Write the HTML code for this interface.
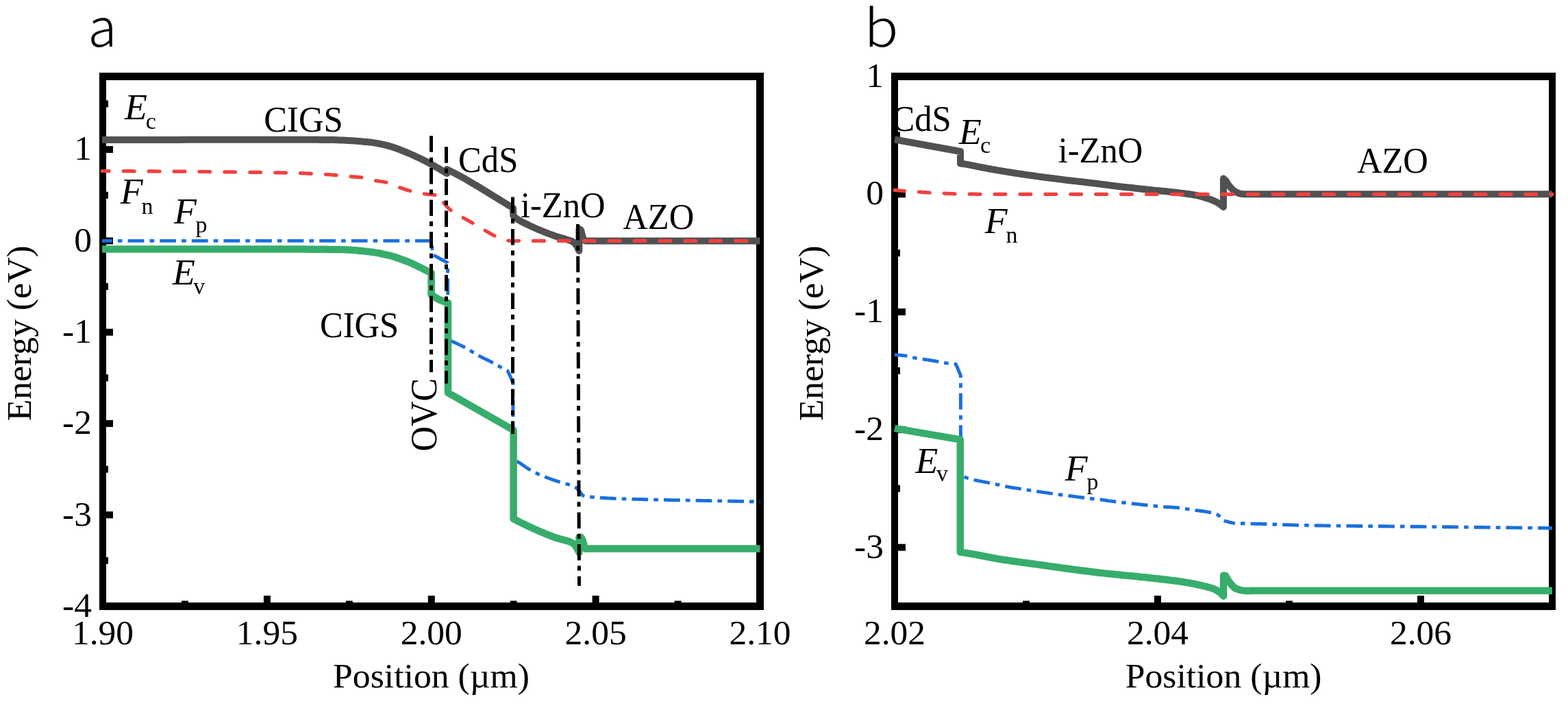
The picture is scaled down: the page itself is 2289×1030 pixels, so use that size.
<!DOCTYPE html>
<html><head><meta charset="utf-8"><title>Band diagram</title>
<style>html,body{margin:0;padding:0;background:#fff;overflow:hidden;}svg{display:block;}</style>
</head><body>
<svg width="2289" height="1030" viewBox="0 0 2289 1030">
<rect width="2289" height="1030" fill="#fff"/>
<rect x="145" y="106" width="970" height="11" fill="#000"/>
<rect x="145" y="879" width="970" height="11" fill="#000"/>
<rect x="145" y="106" width="10" height="784" fill="#000"/>
<rect x="1104" y="106" width="11" height="784" fill="#000"/>
<rect x="155" y="213.1" width="10" height="10" fill="#000"/>
<rect x="155" y="346.4" width="10" height="10" fill="#000"/>
<rect x="155" y="479.7" width="10" height="10" fill="#000"/>
<rect x="155" y="612.9" width="10" height="10" fill="#000"/>
<rect x="155" y="746.2" width="10" height="10" fill="#000"/>
<rect x="155" y="146.5" width="3" height="10" fill="#000"/>
<rect x="155" y="279.8" width="3" height="10" fill="#000"/>
<rect x="155" y="413.0" width="3" height="10" fill="#000"/>
<rect x="155" y="546.3" width="3" height="10" fill="#000"/>
<rect x="155" y="679.6" width="3" height="10" fill="#000"/>
<rect x="155" y="812.9" width="3" height="10" fill="#000"/>
<rect x="384.9" y="869" width="10" height="10" fill="#000"/>
<rect x="624.8" y="869" width="10" height="10" fill="#000"/>
<rect x="864.6" y="869" width="10" height="10" fill="#000"/>
<rect x="264.9" y="876.5" width="10" height="2.5" fill="#000"/>
<rect x="504.8" y="876.5" width="10" height="2.5" fill="#000"/>
<rect x="744.7" y="876.5" width="10" height="2.5" fill="#000"/>
<rect x="984.6" y="876.5" width="10" height="2.5" fill="#000"/>
<rect x="1301" y="106" width="970" height="11" fill="#000"/>
<rect x="1301" y="879" width="970" height="11" fill="#000"/>
<rect x="1301" y="106" width="10" height="784" fill="#000"/>
<rect x="2261" y="106" width="10" height="784" fill="#000"/>
<rect x="1311" y="278.3" width="11" height="10" fill="#000"/>
<rect x="1311" y="450.1" width="11" height="10" fill="#000"/>
<rect x="1311" y="621.8" width="11" height="10" fill="#000"/>
<rect x="1311" y="793.6" width="11" height="10" fill="#000"/>
<rect x="1311" y="192.4" width="3" height="10" fill="#000"/>
<rect x="1311" y="364.2" width="3" height="10" fill="#000"/>
<rect x="1311" y="535.9" width="3" height="10" fill="#000"/>
<rect x="1311" y="707.7" width="3" height="10" fill="#000"/>
<rect x="1685.0" y="869" width="10" height="10" fill="#000"/>
<rect x="2069.0" y="869" width="10" height="10" fill="#000"/>
<rect x="1493.0" y="876.5" width="10" height="2.5" fill="#000"/>
<rect x="1877.0" y="876.5" width="10" height="2.5" fill="#000"/>
<polyline points="149.0,204.0 160.2,204.0 171.9,204.0 183.8,204.0 196.1,204.0 208.6,204.0 221.3,203.9 234.2,203.9 247.3,203.9 260.4,203.9 273.5,203.8 286.7,203.8 299.8,203.8 312.8,203.8 325.7,203.8 338.4,203.7 351.0,203.7 363.2,203.7 375.2,203.7 386.8,203.7 398.0,203.7 408.8,203.7 419.2,203.7 429.0,203.7 438.3,203.7 447.0,203.8 455.0,203.8 462.4,203.8 469.1,203.9 474.9,203.9 480.0,204.0 483.2,204.0 486.0,204.1 488.4,204.1 490.6,204.2 492.6,204.2 494.4,204.3 496.2,204.4 497.9,204.4 499.7,204.5 501.6,204.6 503.6,204.7 505.7,204.8 507.9,204.9 510.0,205.0 512.2,205.2 514.3,205.3 516.5,205.4 518.6,205.6 520.8,205.8 522.9,205.9 525.1,206.1 527.2,206.3 529.3,206.5 531.5,206.7 533.6,206.9 535.8,207.1 537.9,207.3 540.1,207.6 542.2,207.8 544.4,208.1 546.5,208.4 548.7,208.7 550.8,209.1 552.8,209.5 554.7,209.9 556.7,210.3 558.7,210.7 560.6,211.2 562.6,211.7 564.6,212.2 566.5,212.7 568.5,213.2 570.4,213.8 572.4,214.4 574.3,215.0 576.3,215.6 578.3,216.3 580.2,217.0 582.2,217.8 584.2,218.5 586.1,219.3 588.1,220.1 590.1,220.9 592.0,221.7 594.0,222.5 595.9,223.4 597.9,224.2 599.8,225.0 601.7,225.8 603.6,226.7 605.6,227.6 607.6,228.5 609.5,229.4 611.5,230.3 613.4,231.2 615.2,232.1 616.9,232.9 618.6,233.7 620.1,234.5 621.5,235.2 623.7,236.3 625.5,237.3 627.3,238.3 629.5,239.5 630.9,240.3 632.4,241.2 634.0,242.1 635.7,243.1 637.5,244.1 639.3,245.2 641.2,246.3 643.1,247.5 645.0,248.6 647.0,249.7 648.8,250.8 650.7,251.9 652.5,253.0 652.5,247.0 654.3,248.0 656.1,248.9 657.9,249.8 659.6,250.7 661.3,251.5 663.0,252.4 664.7,253.3 666.5,254.2 668.3,255.2 670.2,256.1 672.1,257.2 674.2,258.3 676.3,259.4 678.5,260.7 680.3,261.7 682.2,262.8 684.2,264.0 686.2,265.2 688.3,266.4 690.4,267.7 692.6,269.0 694.9,270.3 697.2,271.7 699.5,273.1 701.9,274.6 704.3,276.0 706.7,277.5 709.2,279.0 711.6,280.5 714.1,282.1 716.7,283.6 719.2,285.2 721.7,286.7 724.3,288.3 726.8,289.9 729.3,291.4 731.8,293.0 734.4,294.5 736.9,296.1 739.3,297.6 741.8,299.1 744.2,300.6 746.6,302.1 749.0,303.5 749.3,314.5 750.7,316.0 752.1,317.4 754.0,319.0 755.3,319.9 756.9,320.8 758.6,321.8 760.5,322.9 762.6,323.9 764.7,325.0 766.8,326.1 769.0,327.1 771.1,328.1 773.1,329.1 775.0,330.0 777.0,330.9 778.9,331.8 780.9,332.7 782.8,333.5 784.7,334.3 786.6,335.1 788.5,335.9 790.5,336.7 792.4,337.5 794.3,338.3 796.3,339.1 798.2,339.8 800.2,340.6 802.2,341.4 804.1,342.1 806.1,342.8 808.0,343.5 810.0,344.2 812.0,344.9 814.0,345.5 816.0,346.1 818.1,346.7 820.1,347.3 822.1,347.9 823.9,348.4 825.7,349.0 827.4,349.5 829.9,350.3 832.1,350.9 834.2,351.6 836.0,352.5 838.2,354.1 840.0,356.0 841.6,358.4 843.0,361.0 844.2,363.5 845.4,366.0 845.4,334.0 847.5,335.0 848.3,336.6 848.9,338.8 849.5,341.0 850.1,343.4 850.7,345.9 851.5,348.0 852.6,349.9 854.0,351.2 855.8,351.6 857.9,351.5 860.0,351.4 1109.5,351.4" fill="none" stroke="#515151" stroke-width="10" stroke-linecap="butt" stroke-linejoin="round"/>
<polyline points="149.0,249.5 154.0,249.5 159.1,249.6 164.2,249.6 169.3,249.6 174.4,249.7 179.5,249.7 184.6,249.7 189.7,249.7 194.8,249.8 200.0,249.8 205.1,249.8 210.2,249.9 215.4,249.9 220.5,249.9 225.6,249.9 230.7,250.0 235.8,250.0 240.8,250.0 245.9,250.1 251.0,250.1 256.0,250.1 261.0,250.2 266.0,250.2 270.9,250.2 275.8,250.3 280.7,250.3 285.6,250.4 290.4,250.4 295.2,250.5 300.0,250.5 304.3,250.5 308.5,250.6 312.9,250.6 317.2,250.7 321.6,250.7 326.0,250.8 330.4,250.8 334.8,250.9 339.2,250.9 343.6,251.0 348.0,251.0 352.4,251.1 356.7,251.1 361.0,251.2 365.2,251.3 369.5,251.3 373.6,251.4 377.7,251.4 381.7,251.5 385.7,251.6 389.6,251.6 393.4,251.7 397.1,251.7 400.7,251.8 404.2,251.9 407.6,251.9 410.9,252.0 414.1,252.1 417.1,252.1 420.0,252.2 422.5,252.3 424.9,252.3 427.2,252.4 429.4,252.4 431.5,252.5 433.5,252.5 435.5,252.6 437.4,252.7 439.3,252.7 441.1,252.8 442.9,252.8 444.7,252.9 446.6,253.0 448.4,253.1 450.2,253.1 452.1,253.2 454.0,253.3 456.0,253.4 458.1,253.5 460.2,253.6 462.3,253.7 464.5,253.8 466.6,253.9 468.8,254.1 471.0,254.2 473.2,254.3 475.4,254.5 477.5,254.6 479.6,254.7 481.7,254.9 483.7,255.0 485.7,255.1 487.7,255.3 489.5,255.4 491.3,255.6 493.0,255.7 495.4,255.9 497.7,256.1 499.8,256.4 501.8,256.6 503.8,256.8 505.8,257.1 507.9,257.3 510.0,257.5 511.9,257.7 513.9,257.8 516.0,257.9 518.0,258.1 520.1,258.2 522.1,258.3 524.1,258.5 526.1,258.7 528.1,258.9 530.0,259.2 532.1,259.6 534.1,260.0 536.1,260.5 538.0,261.1 539.9,261.6 541.9,262.1 543.9,262.6 546.0,263.1 547.9,263.5 549.9,263.8 551.9,264.1 554.0,264.4 556.0,264.7 558.1,265.0 560.1,265.3 562.1,265.7 564.1,266.1 566.0,266.6 568.1,267.3 570.1,268.0 572.1,268.8 574.1,269.7 576.0,270.5 578.0,271.4 580.0,272.2 582.0,273.0 583.9,273.7 585.9,274.4 587.9,275.1 589.9,275.7 591.9,276.4 593.9,277.0 596.0,277.7 598.0,278.2 600.0,278.8 602.0,279.3 604.0,279.8 606.0,280.3 608.0,280.7 610.0,281.2 612.0,281.5 614.0,281.9 616.0,282.3 618.0,282.6 620.1,282.9 622.3,283.2 624.4,283.4 626.5,283.6 628.6,283.7 630.7,283.9 632.7,284.1 634.7,284.4 636.9,284.8 639.1,285.1 641.2,285.6 643.3,286.0 645.4,286.4 647.5,286.8 647.8,296.0 649.1,297.5 650.4,299.0 651.6,300.5 652.9,302.0 654.4,303.5 656.0,305.0 657.4,306.1 658.9,307.2 660.5,308.3 662.2,309.4 664.0,310.5 665.8,311.6 667.6,312.6 669.4,313.7 671.2,314.8 673.0,315.8 674.8,316.9 676.6,317.9 678.4,318.9 680.2,320.0 682.1,321.0 683.9,322.0 685.7,323.0 687.5,324.0 689.3,325.0 691.0,326.0 692.9,327.1 694.8,328.3 696.7,329.4 698.5,330.5 700.4,331.6 702.2,332.8 704.1,333.9 706.0,335.0 707.9,336.1 709.7,337.2 711.7,338.3 713.6,339.4 715.6,340.5 717.5,341.6 719.4,342.6 721.2,343.6 723.0,344.5 725.1,345.5 727.2,346.5 729.2,347.4 731.1,348.2 733.1,349.0 735.0,349.6 737.0,350.1 738.9,350.6 740.9,350.9 742.9,351.2 745.0,351.4 747.0,351.5 749.1,351.6 751.2,351.6 753.4,351.5 755.6,351.5 757.8,351.4 760.0,351.4 1109.5,351.4" fill="none" stroke="#F14040" stroke-width="5.2" stroke-linecap="round" stroke-linejoin="bevel" stroke-dasharray="15.8 21.1" stroke-dashoffset="5.6"/>
<polyline points="149.0,351.4 630.8,351.4 630.8,371.0 653.5,383.5 654.0,496.0 656.3,496.7 659.0,497.7 660.4,498.3 662.1,499.0 663.9,499.8 665.9,500.7 667.9,501.6 670.0,502.6 672.1,503.6 674.1,504.6 676.0,505.5 677.7,506.4 679.7,507.5 681.6,508.6 683.4,509.6 685.1,510.7 686.9,511.7 688.7,512.8 690.5,513.9 692.3,515.0 694.2,516.1 696.0,517.2 697.9,518.3 700.0,519.5 701.7,520.4 703.5,521.3 705.3,522.2 707.2,523.2 709.2,524.1 711.1,525.1 713.1,526.0 714.9,526.9 716.7,527.8 718.4,528.7 720.4,529.8 722.4,530.9 724.2,531.9 726.0,532.9 727.8,534.0 729.7,535.0 731.6,536.1 733.6,537.1 735.5,538.2 737.5,539.3 739.4,540.3 741.4,541.4 748.9,558.0 748.9,672.0 750.9,672.4 753.0,672.8 755.3,673.6 756.8,674.4 758.6,675.4 760.4,676.5 762.3,677.9 764.3,679.2 766.2,680.6 768.2,682.0 770.0,683.2 771.8,684.3 773.8,685.5 775.8,686.6 777.7,687.6 779.6,688.6 781.5,689.5 783.5,690.5 785.5,691.5 787.5,692.4 789.6,693.2 791.7,694.1 793.8,695.0 796.1,695.9 797.9,696.6 799.8,697.3 801.7,698.0 803.8,698.7 805.8,699.5 807.9,700.2 809.9,700.9 811.9,701.5 813.7,702.1 815.5,702.7 817.6,703.3 819.6,703.9 821.5,704.4 823.4,704.9 825.3,705.4 827.2,706.0 829.3,706.7 831.5,707.3 833.6,708.0 835.7,708.8 837.7,709.6 839.4,710.5 841.5,712.0 843.3,713.7 845.0,715.5 846.2,717.0 847.4,718.8 848.6,720.6 849.9,722.3 851.5,723.5" fill="none" stroke="#1A6FDF" stroke-width="4.9" stroke-linecap="butt" stroke-linejoin="bevel" stroke-dasharray="23.8 8.1 6.6 8.1" stroke-dashoffset="9.0"/>
<polyline points="851.5,723.5 853.3,724.2 855.2,724.7 857.3,724.9 859.6,724.9 862.1,725.0 864.7,725.2 866.3,725.3 867.9,725.5 869.5,725.6 871.2,725.8 872.9,725.9 874.7,726.0 876.5,726.2 878.5,726.3 880.4,726.4 882.5,726.5 884.7,726.7 886.9,726.8 889.3,726.9 891.8,727.0 894.4,727.2 897.1,727.3 900.0,727.4 904.3,727.6 908.9,727.7 913.9,727.9 919.2,728.1 924.8,728.2 930.7,728.4 936.9,728.5 943.3,728.7 950.0,728.9 956.9,729.0 963.9,729.2 971.2,729.3 978.6,729.5 986.1,729.6 993.8,729.8 1001.6,729.9 1009.4,730.1 1017.3,730.2 1025.2,730.4 1033.2,730.5 1041.1,730.7 1049.1,730.8 1057.0,730.9 1064.8,731.1 1072.6,731.2 1080.2,731.4 1087.8,731.5 1095.2,731.7 1102.4,731.8 1109.5,732.0" fill="none" stroke="#1A6FDF" stroke-width="4.9" stroke-linecap="butt" stroke-linejoin="bevel" stroke-dasharray="23.8 8.1 6.6 8.1" stroke-dashoffset="22.0"/>
<polyline points="149.0,363.6 159.9,363.6 171.0,363.6 182.5,363.6 194.2,363.6 206.1,363.6 218.2,363.6 230.4,363.6 242.7,363.6 255.1,363.6 267.5,363.6 279.9,363.6 292.3,363.6 304.6,363.5 316.8,363.5 328.9,363.5 340.8,363.5 352.5,363.5 364.0,363.5 375.2,363.5 386.0,363.5 396.5,363.5 406.7,363.6 416.4,363.6 425.7,363.6 434.5,363.6 442.8,363.6 450.5,363.7 457.6,363.7 464.1,363.8 470.0,363.8 472.9,363.8 475.7,363.8 478.3,363.9 480.7,363.9 483.0,363.9 485.2,363.9 487.2,363.9 489.2,363.9 491.1,364.0 492.9,364.0 494.7,364.0 496.4,364.0 498.1,364.1 499.9,364.1 501.6,364.2 503.3,364.2 505.1,364.3 506.9,364.4 508.8,364.5 511.0,364.6 513.3,364.8 515.5,364.9 517.8,365.1 520.0,365.3 522.3,365.5 524.5,365.7 526.6,365.9 528.8,366.1 530.9,366.4 532.9,366.6 534.8,366.8 536.6,367.0 538.4,367.2 540.0,367.4 542.7,367.7 545.0,368.0 547.2,368.4 549.4,368.7 551.6,369.1 553.9,369.5 556.3,370.0 558.6,370.5 561.0,371.1 563.3,371.6 565.6,372.1 568.0,372.7 570.3,373.2 572.6,373.8 574.9,374.5 576.9,375.1 578.8,375.8 580.8,376.5 582.7,377.2 584.7,377.9 586.6,378.6 588.5,379.3 590.5,380.0 592.4,380.7 594.3,381.4 596.3,382.2 598.2,383.0 600.2,383.9 602.1,384.7 604.1,385.7 606.0,386.6 608.0,387.6 609.9,388.5 611.9,389.5 613.9,390.4 615.8,391.4 617.8,392.4 619.7,393.4 621.5,394.3 623.6,395.4 625.6,396.4 627.6,397.5 629.6,398.5 629.6,430.0 631.5,431.2 633.4,432.4 635.2,433.6 637.1,434.8 639.0,436.0 641.0,437.0 643.1,438.0 645.2,438.8 647.4,439.6 649.6,440.4 651.8,441.2 654.0,442.0 654.0,573.0 749.6,627.5 749.6,757.0 751.4,757.9 753.2,758.8 755.0,759.7 756.7,760.6 758.5,761.5 760.3,762.4 762.0,763.2 763.8,764.1 765.6,765.0 767.4,765.9 769.3,766.8 771.1,767.7 773.0,768.6 775.0,769.5 776.8,770.3 778.7,771.1 780.5,772.0 782.5,772.8 784.4,773.7 786.4,774.6 788.4,775.4 790.5,776.3 792.5,777.1 794.5,778.0 796.5,778.8 798.5,779.6 800.5,780.4 802.5,781.2 804.4,782.0 806.3,782.7 808.1,783.4 809.9,784.0 812.0,784.7 814.2,785.4 816.4,786.0 818.6,786.6 820.7,787.2 822.8,787.7 824.9,788.3 826.8,788.8 828.6,789.3 830.3,789.8 831.8,790.4 833.2,791.0 835.6,792.3 837.4,793.5 839.0,795.0 840.5,796.9 841.8,799.0 843.0,801.0 844.3,803.5 845.4,806.0 845.4,783.5 847.5,783.5 849.1,785.3 850.5,788.0 851.3,790.2 851.9,792.7 852.5,795.0 853.0,798.0 854.0,800.3 855.7,800.8 857.8,800.6 860.0,800.5 1109.5,800.5" fill="none" stroke="#37AD6B" stroke-width="10.5" stroke-linecap="butt" stroke-linejoin="round"/>
<polyline points="629.5,198.2 629.5,543.0" fill="none" stroke="#000" stroke-width="5" stroke-linecap="butt" stroke-linejoin="bevel" stroke-dasharray="23.5 8 7 8.2" stroke-dashoffset="0"/>
<polyline points="651.5,214.2 651.5,559.4" fill="none" stroke="#000" stroke-width="5" stroke-linecap="butt" stroke-linejoin="bevel" stroke-dasharray="23.5 8 7 8.2" stroke-dashoffset="0"/>
<polyline points="748.5,287.4 748.5,632.9" fill="none" stroke="#000" stroke-width="5" stroke-linecap="butt" stroke-linejoin="bevel" stroke-dasharray="23.5 8 7 8.2" stroke-dashoffset="0"/>
<polyline points="843.5,327.1 845.5,854.8" fill="none" stroke="#000" stroke-width="5" stroke-linecap="butt" stroke-linejoin="bevel" stroke-dasharray="23.5 8 7 8.2" stroke-dashoffset="0"/>
<polyline points="1306.0,203.5 1402.0,221.0 1402.0,238.5 1404.0,238.8 1406.1,239.0 1408.7,239.4 1410.0,239.6 1411.5,239.9 1413.2,240.2 1415.0,240.6 1416.9,240.9 1418.9,241.3 1421.0,241.7 1423.1,242.2 1425.4,242.6 1427.6,243.1 1430.0,243.6 1432.3,244.0 1434.6,244.5 1436.9,244.9 1439.2,245.4 1441.5,245.8 1443.7,246.2 1445.6,246.5 1447.5,246.9 1449.4,247.2 1451.3,247.5 1453.3,247.9 1455.3,248.2 1457.2,248.6 1459.2,248.9 1461.2,249.2 1463.2,249.6 1465.2,249.9 1467.3,250.2 1469.3,250.6 1471.3,250.9 1473.3,251.2 1475.3,251.5 1477.4,251.8 1479.4,252.2 1481.4,252.5 1483.4,252.8 1485.4,253.1 1487.4,253.4 1489.4,253.7 1491.4,254.0 1493.4,254.3 1495.3,254.6 1497.3,254.9 1499.3,255.2 1501.3,255.4 1503.3,255.7 1505.3,256.0 1507.3,256.3 1509.2,256.6 1511.2,256.8 1513.2,257.1 1515.2,257.4 1517.2,257.7 1519.2,257.9 1521.2,258.2 1523.2,258.5 1525.1,258.7 1527.1,259.0 1529.1,259.2 1531.1,259.5 1533.2,259.8 1535.3,260.0 1537.4,260.3 1539.6,260.6 1541.7,260.8 1543.9,261.1 1546.1,261.4 1548.2,261.6 1550.4,261.9 1552.6,262.2 1554.7,262.4 1556.8,262.7 1559.0,262.9 1561.0,263.2 1563.1,263.4 1565.1,263.7 1567.1,263.9 1569.1,264.1 1571.0,264.4 1572.9,264.6 1574.7,264.8 1577.0,265.1 1579.3,265.3 1581.4,265.6 1583.5,265.8 1585.5,266.1 1587.6,266.3 1589.5,266.6 1591.6,266.8 1593.6,267.0 1595.7,267.3 1597.8,267.5 1600.0,267.8 1602.0,268.0 1604.0,268.3 1606.0,268.5 1608.0,268.8 1610.0,269.1 1612.1,269.3 1614.2,269.6 1616.3,269.8 1618.4,270.1 1620.5,270.4 1622.7,270.7 1624.9,270.9 1627.0,271.2 1629.2,271.5 1631.5,271.7 1633.7,272.0 1635.7,272.2 1637.6,272.5 1639.6,272.7 1641.7,272.9 1643.7,273.1 1645.8,273.4 1647.8,273.6 1649.9,273.8 1652.0,274.1 1654.1,274.3 1656.3,274.5 1658.4,274.8 1660.5,275.0 1662.6,275.2 1664.7,275.4 1666.9,275.7 1669.0,275.9 1671.1,276.1 1673.2,276.4 1675.3,276.6 1677.4,276.8 1679.5,277.0 1681.6,277.2 1683.7,277.5 1685.9,277.7 1688.0,277.9 1690.2,278.1 1692.4,278.3 1694.6,278.5 1696.7,278.7 1698.9,278.9 1701.0,279.1 1703.2,279.3 1705.3,279.6 1707.4,279.8 1709.4,280.0 1711.5,280.2 1713.5,280.4 1715.4,280.6 1717.4,280.8 1719.3,281.1 1721.1,281.3 1723.4,281.6 1725.6,281.9 1727.7,282.1 1729.8,282.4 1731.9,282.7 1734.0,282.9 1736.0,283.2 1737.9,283.5 1739.9,283.8 1741.8,284.1 1743.6,284.5 1745.5,284.8 1747.3,285.2 1749.4,285.7 1751.5,286.2 1753.5,286.7 1755.5,287.2 1757.4,287.8 1759.3,288.4 1761.2,289.0 1763.0,289.6 1764.8,290.2 1766.8,290.9 1768.8,291.7 1770.8,292.5 1772.7,293.3 1774.5,294.1 1776.2,295.0 1777.9,295.9 1779.7,297.0 1781.3,298.3 1782.9,299.5 1784.4,300.8 1786.0,302.0 1786.0,260.5 1789.0,263.0 1790.5,265.4 1792.0,268.0 1793.2,269.7 1794.6,271.4 1796.0,273.0 1797.6,274.8 1799.3,276.5 1801.0,278.0 1803.4,279.7 1806.0,281.0 1807.8,281.8 1809.8,282.4 1812.0,282.9 1813.9,283.1 1816.0,283.2 1818.2,283.2 1820.5,283.2 1822.8,283.2 1825.0,283.2 2266.0,283.2" fill="none" stroke="#515151" stroke-width="10" stroke-linecap="butt" stroke-linejoin="round"/>
<polyline points="1306.0,277.4 1308.1,277.6 1310.1,277.7 1312.2,277.9 1314.2,278.0 1316.3,278.2 1318.4,278.3 1320.5,278.5 1322.5,278.7 1324.6,278.8 1326.7,279.0 1328.7,279.2 1330.8,279.3 1332.9,279.5 1334.9,279.6 1336.9,279.8 1339.0,279.9 1341.0,280.1 1343.0,280.2 1345.0,280.3 1347.0,280.5 1349.0,280.6 1351.1,280.7 1353.2,280.9 1355.3,281.0 1357.4,281.1 1359.5,281.2 1361.6,281.4 1363.7,281.5 1365.7,281.6 1367.8,281.7 1369.8,281.8 1371.9,281.9 1373.9,282.0 1375.9,282.1 1377.9,282.2 1380.0,282.3 1382.0,282.3 1384.0,282.4 1386.0,282.5 1388.0,282.6 1390.0,282.6 1392.0,282.7 1394.0,282.8 1396.0,282.8 1398.0,282.9 1400.0,282.9 1401.9,282.9 1403.9,283.0 1405.9,283.0 1407.9,283.0 1409.8,283.1 1411.8,283.1 1413.9,283.1 1415.9,283.2 1417.9,283.2 1420.0,283.2 1421.9,283.2 1423.9,283.2 1425.8,283.3 1427.8,283.3 1429.8,283.3 1431.8,283.3 1433.8,283.3 1435.8,283.3 1437.8,283.3 1439.8,283.3 1441.8,283.3 1443.8,283.3 1445.9,283.3 1447.9,283.3 1449.9,283.3 1451.9,283.3 1454.0,283.3 1456.0,283.3 1458.0,283.3 1460.0,283.3 2266.0,283.4" fill="none" stroke="#F14040" stroke-width="5.2" stroke-linecap="round" stroke-linejoin="bevel" stroke-dasharray="15.8 21.1" stroke-dashoffset="1.3"/>
<polyline points="1306.0,517.5 1308.1,517.7 1310.2,517.9 1312.4,518.1 1314.5,518.3 1316.6,518.5 1318.7,518.7 1320.8,518.9 1322.7,519.2 1324.6,519.5 1326.7,519.9 1328.8,520.4 1330.7,520.9 1332.6,521.5 1334.5,522.0 1336.5,522.4 1338.6,522.8 1340.6,523.1 1342.6,523.3 1344.7,523.6 1346.9,523.9 1349.2,524.2 1351.0,524.5 1353.0,524.8 1355.0,525.1 1357.1,525.5 1359.3,525.8 1361.4,526.2 1363.5,526.5 1365.5,526.9 1367.5,527.2 1369.3,527.5 1371.6,527.9 1373.7,528.3 1375.8,528.7 1377.8,529.1 1379.9,529.5 1382.0,529.8 1384.2,530.1 1386.5,530.4 1388.7,530.6 1391.0,530.8 1393.2,531.1 1395.5,531.3 1402.4,548.0 1402.4,693.0 1404.7,694.2 1407.2,695.5 1408.8,696.1 1410.5,696.8 1412.4,697.5 1414.4,698.1 1416.6,698.8 1418.8,699.4 1420.6,699.9 1422.5,700.3 1424.6,700.7 1426.7,701.2 1428.9,701.6 1431.1,702.0 1433.3,702.4 1435.4,702.8 1437.5,703.2 1439.4,703.6 1441.2,703.9 1443.8,704.4 1446.1,704.9 1448.3,705.3 1450.5,705.7 1452.8,706.2 1454.8,706.7 1456.8,707.1 1458.9,707.6 1461.0,708.1 1463.1,708.6 1465.4,709.1 1467.2,709.5 1469.0,709.8 1470.8,710.1 1472.7,710.5 1474.6,710.8 1476.6,711.1 1478.7,711.5 1481.0,711.8 1483.3,712.2 1485.8,712.6 1487.4,712.8 1489.0,713.1 1490.8,713.4 1492.6,713.7 1494.5,714.0 1496.5,714.3 1498.6,714.6 1500.7,714.9 1502.8,715.2 1505.0,715.6 1507.2,715.9 1509.5,716.2 1511.8,716.6 1514.0,716.9 1516.3,717.3 1518.6,717.6 1520.9,717.9 1523.2,718.3 1525.4,718.6 1527.6,718.9 1529.8,719.2 1531.9,719.6 1534.0,719.9 1536.0,720.1 1538.0,720.4 1539.9,720.7 1541.7,720.9 1543.4,721.2 1545.0,721.4 1547.5,721.7 1549.8,722.0 1552.0,722.3 1554.1,722.6 1556.2,722.8 1558.1,723.1 1560.1,723.3 1562.0,723.6 1564.0,723.8 1565.9,724.0 1568.0,724.3 1570.1,724.6 1572.3,724.9 1574.5,725.2 1576.7,725.4 1579.0,725.7 1581.2,726.0 1583.3,726.3 1585.4,726.6 1587.4,726.8 1589.4,727.1 1591.2,727.3 1593.4,727.5 1595.4,727.7 1597.3,727.9 1599.1,728.1 1601.1,728.3 1603.3,728.5 1605.0,728.7 1606.8,728.9 1608.6,729.2 1610.4,729.4 1612.3,729.7 1614.2,730.0 1616.3,730.3 1618.4,730.6 1620.7,730.9 1623.1,731.2 1625.6,731.5 1627.4,731.7 1629.3,731.9 1631.3,732.2 1633.4,732.4 1635.6,732.7 1637.9,733.0 1640.3,733.2 1642.7,733.5 1645.2,733.8 1647.8,734.1 1650.4,734.4 1653.1,734.7 1655.7,735.0 1658.4,735.3 1661.1,735.6 1663.8,735.9 1666.5,736.2 1669.2,736.5 1671.8,736.7 1674.4,737.0 1677.0,737.3 1679.5,737.5 1681.9,737.8 1684.3,738.0 1686.6,738.3 1688.8,738.5 1690.9,738.7 1692.9,738.9 1694.8,739.0 1696.5,739.2 1699.1,739.4 1701.5,739.6 1703.8,739.7 1705.9,739.8 1707.9,739.9 1709.8,740.0 1711.7,740.1 1713.7,740.2 1715.7,740.4 1717.9,740.6 1719.9,740.8 1722.0,741.1 1724.1,741.3 1726.3,741.6 1728.4,741.9 1730.5,742.2 1732.7,742.6 1734.8,742.9 1736.9,743.2 1739.0,743.5 1741.1,743.8 1743.1,744.1 1745.2,744.4 1747.4,744.7 1749.5,744.9 1751.6,745.2 1753.7,745.5 1755.8,745.8 1757.8,746.0 1759.8,746.3 1761.7,746.7 1763.5,747.0 1765.9,747.5 1768.3,747.9 1770.6,748.4 1772.8,748.9 1774.7,749.5 1776.4,750.2 1778.9,752.0 1781.0,754.0 1782.3,755.6 1783.6,757.2 1785.0,758.6 1787.3,759.7 1790.0,760.5 1791.8,761.0 1793.9,761.6 1796.1,762.2 1798.4,762.7 1800.7,763.2 1802.9,763.5" fill="none" stroke="#1A6FDF" stroke-width="4.9" stroke-linecap="butt" stroke-linejoin="bevel" stroke-dasharray="23.8 8.1 6.6 8.1" stroke-dashoffset="5.3"/>
<polyline points="1802.9,763.5 1805.2,763.7 1807.3,763.8 1809.4,763.7 1811.8,763.7 1814.5,763.7 1816.0,763.7 1817.7,763.8 1819.4,763.8 1821.2,763.9 1823.0,763.9 1825.0,763.9 1827.0,764.0 1829.0,764.1 1831.1,764.1 1833.2,764.2 1835.4,764.2 1837.6,764.3 1839.8,764.3 1842.0,764.4 1844.3,764.5 1846.5,764.5 1848.7,764.6 1850.5,764.7 1852.4,764.7 1854.2,764.8 1856.0,764.8 1857.7,764.9 1859.5,765.0 1861.3,765.0 1863.1,765.1 1865.0,765.2 1866.8,765.2 1868.7,765.3 1870.6,765.4 1872.5,765.5 1874.5,765.5 1876.5,765.6 1878.6,765.7 1880.7,765.8 1882.8,765.8 1885.1,765.9 1887.4,766.0 1889.7,766.0 1892.2,766.1 1894.7,766.2 1897.3,766.2 1900.0,766.3 1904.8,766.4 1909.9,766.5 1915.3,766.6 1920.9,766.7 1926.9,766.8 1933.1,766.9 1939.5,767.0 1946.2,767.0 1953.0,767.1 1960.0,767.2 1967.2,767.3 1974.5,767.4 1981.9,767.5 1989.4,767.5 1997.0,767.6 2004.6,767.7 2012.3,767.8 2020.1,767.8 2027.8,767.9 2035.5,768.0 2043.2,768.0 2050.9,768.1 2058.4,768.2 2065.9,768.3 2073.3,768.3 2080.5,768.4 2087.6,768.5 2094.6,768.6 2101.3,768.6 2107.9,768.7 2113.5,768.8 2119.1,768.8 2124.6,768.9 2130.1,769.0 2135.5,769.0 2140.9,769.1 2146.3,769.1 2151.6,769.2 2156.9,769.3 2162.2,769.3 2167.5,769.4 2172.7,769.4 2177.9,769.5 2183.1,769.6 2188.3,769.6 2193.5,769.7 2198.6,769.7 2203.8,769.8 2209.0,769.9 2214.1,769.9 2219.3,770.0 2224.4,770.0 2229.6,770.1 2234.7,770.1 2239.9,770.2 2245.1,770.3 2250.3,770.3 2255.5,770.4 2260.7,770.4 2266.0,770.5" fill="none" stroke="#1A6FDF" stroke-width="4.9" stroke-linecap="butt" stroke-linejoin="bevel" stroke-dasharray="23.8 8.1 6.6 8.1" stroke-dashoffset="23.8"/>
<polyline points="1306.0,624.8 1401.8,641.3 1401.8,805.5 1404.0,805.8 1406.0,806.1 1408.1,806.4 1410.2,806.7 1412.4,807.1 1414.8,807.5 1417.5,807.9 1419.0,808.2 1420.6,808.4 1422.3,808.8 1424.1,809.1 1425.9,809.4 1427.8,809.8 1429.7,810.1 1431.7,810.5 1433.7,810.9 1435.8,811.3 1437.9,811.7 1440.0,812.1 1442.2,812.6 1444.3,813.0 1446.5,813.4 1448.6,813.8 1450.8,814.2 1453.0,814.6 1455.1,815.0 1457.2,815.4 1459.3,815.7 1461.4,816.1 1463.4,816.4 1465.4,816.7 1467.4,817.0 1469.4,817.3 1471.4,817.6 1473.4,817.9 1475.4,818.2 1477.4,818.5 1479.4,818.8 1481.4,819.1 1483.3,819.3 1485.3,819.6 1487.3,819.9 1489.3,820.1 1491.3,820.4 1493.3,820.7 1495.3,820.9 1497.3,821.2 1499.3,821.4 1501.3,821.7 1503.3,822.0 1505.3,822.3 1507.3,822.5 1509.3,822.8 1511.3,823.1 1513.3,823.4 1515.3,823.6 1517.3,823.9 1519.3,824.2 1521.3,824.5 1523.3,824.8 1525.3,825.0 1527.2,825.3 1529.2,825.6 1531.2,825.9 1533.2,826.2 1535.2,826.5 1537.2,826.7 1539.2,827.0 1541.2,827.3 1543.2,827.6 1545.2,827.8 1547.2,828.1 1549.1,828.4 1551.1,828.7 1553.1,828.9 1555.1,829.2 1557.2,829.5 1559.2,829.8 1561.3,830.0 1563.4,830.3 1565.4,830.6 1567.5,830.9 1569.6,831.1 1571.7,831.4 1573.7,831.7 1575.8,832.0 1577.9,832.2 1579.9,832.5 1582.0,832.8 1584.1,833.0 1586.1,833.3 1588.1,833.6 1590.1,833.8 1592.1,834.1 1594.1,834.3 1596.1,834.5 1598.1,834.8 1600.0,835.0 1602.1,835.2 1604.1,835.5 1606.2,835.7 1608.2,835.9 1610.1,836.1 1612.1,836.4 1614.0,836.6 1616.0,836.8 1617.9,837.0 1619.9,837.2 1621.8,837.4 1623.8,837.6 1625.7,837.8 1627.7,838.0 1629.7,838.2 1631.7,838.4 1633.8,838.6 1635.9,838.8 1637.8,839.0 1639.7,839.2 1641.6,839.4 1643.5,839.6 1645.5,839.8 1647.5,839.9 1649.4,840.1 1651.4,840.3 1653.4,840.5 1655.4,840.7 1657.4,840.9 1659.5,841.1 1661.5,841.3 1663.5,841.5 1665.6,841.7 1667.6,841.9 1669.6,842.1 1671.6,842.3 1673.7,842.5 1675.7,842.7 1677.7,843.0 1679.7,843.2 1681.7,843.4 1683.7,843.6 1685.7,843.9 1687.8,844.1 1689.8,844.3 1691.9,844.5 1694.0,844.8 1696.1,845.0 1698.1,845.3 1700.2,845.5 1702.3,845.7 1704.4,846.0 1706.4,846.2 1708.5,846.5 1710.5,846.7 1712.5,847.0 1714.5,847.2 1716.5,847.5 1718.4,847.8 1720.3,848.0 1722.2,848.3 1724.0,848.6 1725.8,848.8 1727.6,849.1 1729.8,849.5 1732.0,849.8 1734.1,850.2 1736.1,850.5 1738.2,850.9 1740.2,851.2 1742.2,851.6 1744.1,852.0 1746.0,852.4 1747.9,852.8 1749.7,853.2 1751.5,853.6 1753.3,854.0 1755.1,854.4 1757.4,855.0 1759.6,855.5 1761.9,856.1 1764.0,856.7 1766.1,857.3 1768.2,857.9 1770.1,858.6 1771.9,859.2 1773.5,859.9 1775.7,861.0 1777.6,862.1 1779.4,863.3 1781.0,864.5 1782.8,866.2 1784.5,867.9 1786.1,869.7 1786.1,839.5 1789.0,840.0 1790.2,841.5 1791.3,843.8 1792.5,846.0 1793.9,848.0 1795.4,850.1 1797.0,852.0 1798.6,853.9 1800.2,855.8 1802.1,857.4 1804.2,858.6 1806.6,859.6 1809.1,860.4 1811.4,861.0 1813.5,861.4 1815.4,861.6 1817.6,861.8 1819.4,861.9 1821.4,861.9 1823.5,861.9 1825.7,861.8 1827.9,861.8 1830.0,861.8 2266.0,861.8" fill="none" stroke="#37AD6B" stroke-width="10.5" stroke-linecap="butt" stroke-linejoin="round"/>
<text x="134.0" y="233.4" font-size="51.5" text-anchor="end" font-family="'Liberation Serif','Times New Roman',serif">1</text>
<text x="134.0" y="366.7" font-size="51.5" text-anchor="end" font-family="'Liberation Serif','Times New Roman',serif">0</text>
<text x="134.0" y="500.0" font-size="51.5" text-anchor="end" font-family="'Liberation Serif','Times New Roman',serif">-1</text>
<text x="134.0" y="633.2" font-size="51.5" text-anchor="end" font-family="'Liberation Serif','Times New Roman',serif">-2</text>
<text x="134.0" y="766.5" font-size="51.5" text-anchor="end" font-family="'Liberation Serif','Times New Roman',serif">-3</text>
<text x="134.0" y="899.8" font-size="51.5" text-anchor="end" font-family="'Liberation Serif','Times New Roman',serif">-4</text>
<text x="1290.0" y="126.5" font-size="51.5" text-anchor="end" font-family="'Liberation Serif','Times New Roman',serif">1</text>
<text x="1290.0" y="298.3" font-size="51.5" text-anchor="end" font-family="'Liberation Serif','Times New Roman',serif">0</text>
<text x="1290.0" y="470.1" font-size="51.5" text-anchor="end" font-family="'Liberation Serif','Times New Roman',serif">-1</text>
<text x="1290.0" y="641.8" font-size="51.5" text-anchor="end" font-family="'Liberation Serif','Times New Roman',serif">-2</text>
<text x="1290.0" y="813.6" font-size="51.5" text-anchor="end" font-family="'Liberation Serif','Times New Roman',serif">-3</text>
<text x="150.0" y="940.0" font-size="51.5" text-anchor="middle" font-family="'Liberation Serif','Times New Roman',serif">1.90</text>
<text x="389.9" y="940.0" font-size="51.5" text-anchor="middle" font-family="'Liberation Serif','Times New Roman',serif">1.95</text>
<text x="629.8" y="940.0" font-size="51.5" text-anchor="middle" font-family="'Liberation Serif','Times New Roman',serif">2.00</text>
<text x="869.6" y="940.0" font-size="51.5" text-anchor="middle" font-family="'Liberation Serif','Times New Roman',serif">2.05</text>
<text x="1109.5" y="940.0" font-size="51.5" text-anchor="middle" font-family="'Liberation Serif','Times New Roman',serif">2.10</text>
<text x="1306.0" y="940.0" font-size="51.5" text-anchor="middle" font-family="'Liberation Serif','Times New Roman',serif">2.02</text>
<text x="1690.0" y="940.0" font-size="51.5" text-anchor="middle" font-family="'Liberation Serif','Times New Roman',serif">2.04</text>
<text x="2074.0" y="940.0" font-size="51.5" text-anchor="middle" font-family="'Liberation Serif','Times New Roman',serif">2.06</text>
<text x="629.5" y="1003.0" font-size="51.7" text-anchor="middle" font-family="'Liberation Serif','Times New Roman',serif">Position (µm)</text>
<text x="1786.2" y="1003.0" font-size="51.7" text-anchor="middle" font-family="'Liberation Serif','Times New Roman',serif">Position (µm)</text>
<text x="45.5" y="486.3" font-size="51.7" text-anchor="middle" transform="rotate(-90 45.5 486.3)" font-family="'Liberation Serif','Times New Roman',serif">Energy (eV)</text>
<text x="1201.5" y="486.3" font-size="51.7" text-anchor="middle" transform="rotate(-90 1201.5 486.3)" font-family="'Liberation Serif','Times New Roman',serif">Energy (eV)</text>
<text x="385.3" y="191.6" font-size="50.6" text-anchor="start" transform="translate(0 191.6) scale(1 1.04) translate(0 -191.6)" font-family="'Liberation Serif','Times New Roman',serif">CIGS</text>
<text x="467.0" y="491.6" font-size="50.6" text-anchor="start" transform="translate(0 491.6) scale(1 1.04) translate(0 -491.6)" font-family="'Liberation Serif','Times New Roman',serif">CIGS</text>
<text x="669.1" y="250.6" font-size="50.6" text-anchor="start" transform="translate(0 250.6) scale(1 1.04) translate(0 -250.6)" font-family="'Liberation Serif','Times New Roman',serif">CdS</text>
<text x="759.9" y="317.2" font-size="50.6" text-anchor="start" transform="translate(0 317.2) scale(1 1.04) translate(0 -317.2)" font-family="'Liberation Serif','Times New Roman',serif">i-ZnO</text>
<text x="909.3" y="334.0" font-size="50.6" text-anchor="start" transform="translate(0 334.0) scale(1 1.04) translate(0 -334.0)" font-family="'Liberation Serif','Times New Roman',serif">AZO</text>
<g transform="translate(637 0) scale(1.065 1) translate(-637 0)">
<text x="637.0" y="658.6" font-size="50.6" text-anchor="start" transform="rotate(-90 637 658.6)" font-family="'Liberation Serif','Times New Roman',serif">OVC</text>
</g>
<text x="181.9" y="174.1" font-size="53.8" text-anchor="start" font-style="italic" font-family="'Liberation Serif','Times New Roman',serif">E</text>
<text x="212.7" y="187.9" font-size="34" text-anchor="start" font-family="'Liberation Serif','Times New Roman',serif">c</text>
<text x="175.8" y="297.0" font-size="53.8" text-anchor="start" font-style="italic" font-family="'Liberation Serif','Times New Roman',serif">F</text>
<text x="206.5" y="311.5" font-size="34" text-anchor="start" font-family="'Liberation Serif','Times New Roman',serif">n</text>
<text x="254.0" y="326.0" font-size="53.8" text-anchor="start" font-style="italic" font-family="'Liberation Serif','Times New Roman',serif">F</text>
<text x="285.5" y="338.5" font-size="34" text-anchor="start" font-family="'Liberation Serif','Times New Roman',serif">p</text>
<text x="252.1" y="415.0" font-size="53.8" text-anchor="start" font-style="italic" font-family="'Liberation Serif','Times New Roman',serif">E</text>
<text x="282.2" y="429.0" font-size="34" text-anchor="start" font-family="'Liberation Serif','Times New Roman',serif">v</text>
<text x="1301.6" y="191.2" font-size="50.6" text-anchor="start" transform="translate(0 191.2) scale(1 1.04) translate(0 -191.2)" font-family="'Liberation Serif','Times New Roman',serif">CdS</text>
<text x="1544.7" y="236.8" font-size="50.6" text-anchor="start" transform="translate(0 236.8) scale(1 1.04) translate(0 -236.8)" font-family="'Liberation Serif','Times New Roman',serif">i-ZnO</text>
<text x="1980.9" y="252.0" font-size="50.6" text-anchor="start" transform="translate(0 252.0) scale(1 1.04) translate(0 -252.0)" font-family="'Liberation Serif','Times New Roman',serif">AZO</text>
<text x="1400.0" y="209.7" font-size="53.8" text-anchor="start" font-style="italic" font-family="'Liberation Serif','Times New Roman',serif">E</text>
<text x="1430.9" y="222.8" font-size="34" text-anchor="start" font-family="'Liberation Serif','Times New Roman',serif">c</text>
<text x="1437.8" y="340.0" font-size="53.8" text-anchor="start" font-style="italic" font-family="'Liberation Serif','Times New Roman',serif">F</text>
<text x="1468.4" y="354.2" font-size="34" text-anchor="start" font-family="'Liberation Serif','Times New Roman',serif">n</text>
<text x="1336.6" y="690.0" font-size="53.8" text-anchor="start" font-style="italic" font-family="'Liberation Serif','Times New Roman',serif">E</text>
<text x="1367.0" y="702.0" font-size="34" text-anchor="start" font-family="'Liberation Serif','Times New Roman',serif">v</text>
<text x="1554.8" y="700.9" font-size="53.8" text-anchor="start" font-style="italic" font-family="'Liberation Serif','Times New Roman',serif">F</text>
<text x="1586.5" y="714.0" font-size="34" text-anchor="start" font-family="'Liberation Serif','Times New Roman',serif">p</text>
<g transform="translate(133.2 0) scale(1.0 1) translate(-133.2 0)">
<text x="128.4" y="67.5" font-size="76.5" text-anchor="start" font-weight="300" font-family="'Noto Sans CJK SC',sans-serif">a</text>
</g>
<g transform="translate(1269.2 0) scale(1.1 1) translate(-1269.2 0)">
<text x="1262.2" y="67.5" font-size="75" text-anchor="start" font-weight="300" font-family="'Noto Sans CJK SC',sans-serif">b</text>
</g>
</svg>
</body></html>
